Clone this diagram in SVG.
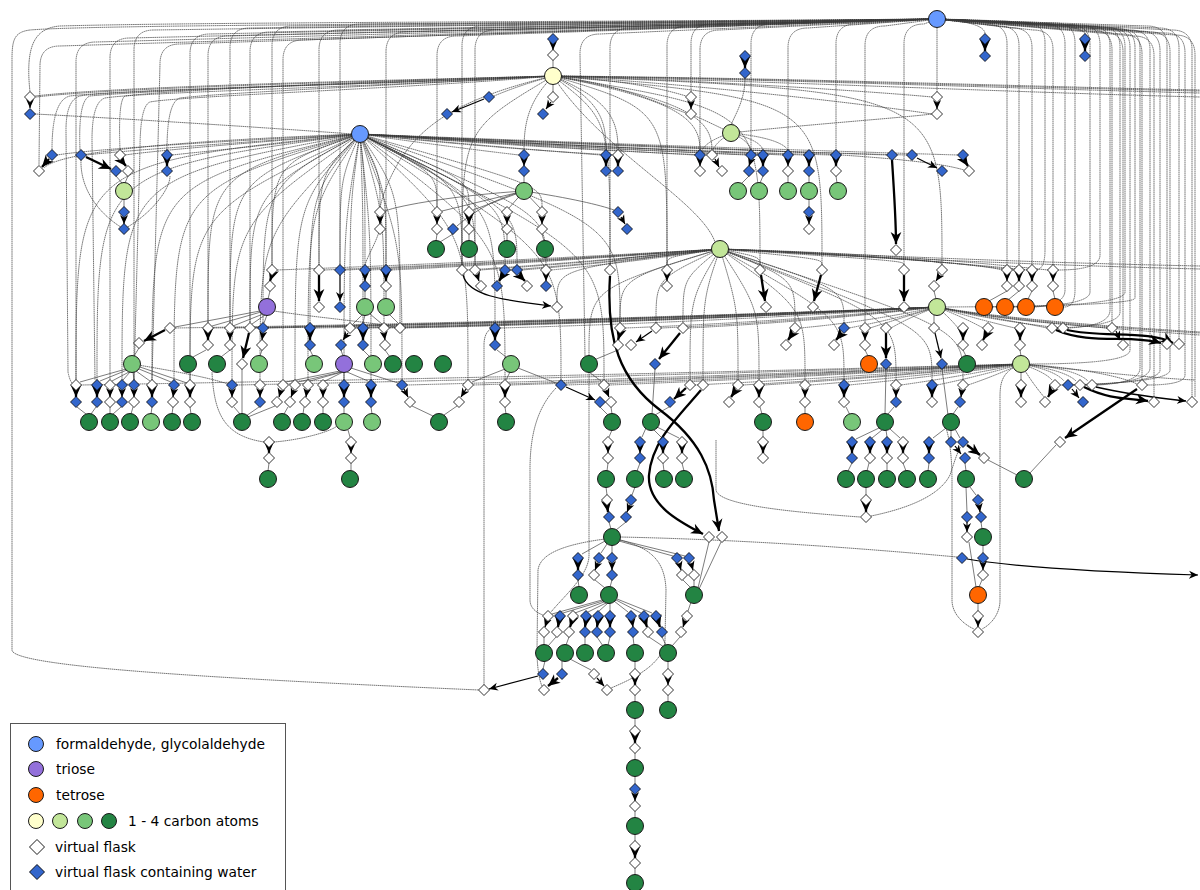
<svg xmlns="http://www.w3.org/2000/svg" width="1200" height="890" viewBox="0 0 1200 890">
<style>
.e{fill:none;stroke:#3a3a3a;stroke-width:.7;stroke-dasharray:1.6 .5}
.l{fill:none;stroke:#444;stroke-width:.7}
.p{fill:none;stroke:#000;stroke-width:1.2;marker-end:url(#ah)}
.P{fill:none;stroke:#000;stroke-width:2.3;marker-end:url(#ah2)}
circle{stroke:#1a1a1a;stroke-width:1}
.b{fill:#6699ff}.t{fill:#9370db}.o{fill:#ff6600}.c1{fill:#ffffcc}.c2{fill:#c2e699}.c3{fill:#78c679}.c4{fill:#238443}
text{font-family:"DejaVu Sans","Liberation Sans",sans-serif;font-size:13.8px;fill:#000}
</style>
<defs>
<marker id="ah" viewBox="0 0 10 10" refX="10" refY="5" markerWidth="9" markerHeight="9" markerUnits="userSpaceOnUse" orient="auto"><path d="M0,0.5 L10,5 L0,9.5 L3,5Z" fill="#000"/></marker>
<marker id="ah2" viewBox="0 0 10 10" refX="10" refY="5" markerWidth="12" markerHeight="12" markerUnits="userSpaceOnUse" orient="auto"><path d="M0,0.5 L10,5 L0,9.5 L3,5Z" fill="#000"/></marker>
<path id="w" d="M0,-5.5 L5.5,0 L0,5.5 L-5.5,0Z" fill="#fff" stroke="#000" stroke-width=".8"/>
<path id="k" d="M0,-5.5 L5.5,0 L0,5.5 L-5.5,0Z" fill="#3366cc" stroke="#000" stroke-width=".8"/>
</defs>
<rect width="1200" height="890" fill="#fff"/>
<g id="edges">
<path class="e" d="M937,19 C600,22 200,22 60,26 C35,28 25,45 30,92"/>
<path class="e" d="M937,19 C600,24 100,24 30,30 C14,32 12,40 12,60 L12,650 C12,668 250,680 479,690"/>
<path class="e" d="M937,19 L96,42 Q76,42 76,62 L76,380"/>
<path class="e" d="M937,19 L130,38 Q110,38 110,58 L110,380"/>
<path class="e" d="M937,19 L154,30 Q134,30 134,50 L134,380"/>
<path class="e" d="M937,19 L180,44 Q160,44 160,64 L152,380"/>
<path class="e" d="M937,19 L60,46 Q40,46 40,66 L39,165"/>
<path class="e" d="M937,19 L210,34 Q190,34 190,54 L190,380"/>
<path class="e" d="M937,19 L228,36 Q208,36 208,56 L208,323"/>
<path class="e" d="M937,19 L250,28 Q230,28 230,48 L230,323"/>
<path class="e" d="M937,19 L270,32 Q250,32 250,52 L250,323"/>
<path class="e" d="M937,19 L292,26 Q272,26 272,46 L272,265"/>
<path class="e" d="M937,19 L303,40 Q283,40 283,60 L283,380"/>
<path class="e" d="M937,19 L339,30 Q319,30 319,50 L319,265"/>
<path class="e" d="M937,19 L360,24 Q340,24 340,44 L340,265"/>
<path class="e" d="M937,19 L406,32 Q386,32 386,52 L386,265"/>
<path class="e" d="M937,19 L457,36 Q437,36 437,56 L437,207"/>
<path class="e" d="M937,19 L482,26 Q462,26 462,46 L462,265"/>
<path class="e" d="M937,19 L495,30 Q475,30 475,50 L475,265"/>
<path class="e" d="M937,19 L600,34 Q580,34 580,54 L585,356"/>
<path class="e" d="M937,19 L630,28 Q610,28 610,48 L610,265"/>
<path class="e" d="M937,19 L687,26 Q667,26 667,46 L667,265"/>
<path class="e" d="M937,19 L711,24 Q691,24 691,44 L691,92"/>
<path class="e" d="M937,19 L720,30 Q700,30 700,50 L700,150"/>
<path class="e" d="M937,19 L771,24 Q751,24 751,44 L751,150"/>
<path class="e" d="M937,19 L808,28 Q788,28 788,48 L788,150"/>
<path class="e" d="M937,19 L856,24 Q836,24 836,44 L836,150"/>
<path class="e" d="M937,19 L885,26 Q865,26 865,46 L865,323"/>
<path class="e" d="M937,19 L924,24 Q904,24 904,44 L904,265"/>
<path class="e" d="M937,28 L937,92"/>
<path class="e" d="M937,19 Q985,22 985,34"/>
<path class="e" d="M937,19 Q1085,22 1085,34"/>
<path class="e" d="M937,19 L987,24 Q1007,24 1007,44 L1007,265"/>
<path class="e" d="M937,19 L999,26 Q1019,26 1019,46 L1019,265"/>
<path class="e" d="M937,19 L1012,28 Q1032,28 1032,48 L1032,265"/>
<path class="e" d="M937,19 L1033,30 Q1053,30 1053,50 L1053,265"/>
<path class="e" d="M937,19 L1092,30 Q1112,30 1112,50 L1112,323"/>
<path class="e" d="M937,19 L1103,32 Q1123,32 1123,52 L1123,340"/>
<path class="e" d="M937,19 L1122,34 Q1142,34 1142,54 L1142,380"/>
<path class="e" d="M937,19 L1134,36 Q1154,36 1154,56 L1154,397"/>
<path class="e" d="M937,19 L1147,26 Q1167,26 1167,46 L1167,339"/>
<path class="e" d="M937,19 L1159,28 Q1179,28 1179,48 L1179,339"/>
<path class="e" d="M937,19 L1172,30 Q1192,30 1192,50 L1192,397"/>
<path class="e" d="M937,19 L1055,23 Q1075,23 1075,43 L1075,290 Q1075,307 1064,307"/>
<path class="e" d="M937,19 L1080,25 Q1100,25 1100,45 L1100,255 Q1100,270 1058,270"/>
<path class="e" d="M937,19 L1090,26 Q1110,26 1110,46 L1110,310 Q1110,326 1068,328"/>
<path class="e" d="M937,19 L1100,27 Q1120,27 1120,47 L1120,312 Q1120,326 1057,328"/>
<path class="e" d="M937,19 L1110,28 Q1130,28 1130,48 L1130,350 Q1130,364 1030,364"/>
<path class="e" d="M937,19 L1120,29 Q1140,29 1140,49 L1140,368 Q1140,383 1097,385"/>
<path class="e" d="M937,19 L1130,30 Q1150,30 1150,50 L1150,368 Q1150,383 1085,385"/>
<path class="e" d="M937,19 L1140,31 Q1160,31 1160,51 L1160,370 Q1160,383 1073,385"/>
<path class="e" d="M937,19 L1150,32 Q1170,32 1170,52 L1170,370 Q1170,383 1060,385"/>
<path class="e" d="M937,19 L1165,33 Q1185,33 1185,53 L1185,375 Q1185,385 1147,385"/>
<path class="e" d="M937,19 L1175,35 Q1195,35 1195,55 L1195,397"/>
<path class="e" d="M937,19 L1025,23 Q1045,23 1045,43 L1045,250 Q1045,268 1037,270"/>
<path class="e" d="M937,19 L1045,24 Q1065,24 1065,44 L1065,290 Q1065,305 1035,307"/>
<path class="e" d="M937,19 L1070,25 Q1090,25 1090,45 L1090,292 Q1090,306 1014,307"/>
<path class="e" d="M937,19 L1105,27 Q1125,27 1125,47 L1125,292 Q1125,306 993,307"/>
<path class="e" d="M937,19 L1115,28 Q1135,28 1135,48 L1135,298 Q1135,306 946,307"/>
<path class="e" d="M553,76 C400,80 120,86 35,96"/>
<path class="e" d="M553,76 C400,81 120,87 36,97"/>
<path class="e" d="M553,76 C400,84 140,88 70,96 Q52,100 52,150"/>
<path class="e" d="M553,76 C400,82 150,90 90,96 Q78,100 80,150"/>
<path class="e" d="M553,76 C400,80 170,90 125,96 Q118,100 120,150"/>
<path class="e" d="M553,76 C420,84 230,92 180,98 Q167,102 167,150"/>
<path class="e" d="M553,76 C400,84 110,90 80,96 Q66,100 66,130 L68,372 Q70,382 73,384"/>
<path class="e" d="M553,76 C400,86 140,92 105,98 Q92,102 92,140 L95,380"/>
<path class="e" d="M553,76 C420,88 180,96 150,102 Q140,106 140,150 L134,380"/>
<path class="e" d="M553,76 C800,78 1000,86 1200,90"/>
<path class="e" d="M553,76 C800,80 1000,88 1200,93"/>
<path class="e" d="M553,76 C800,82 1000,92 1200,97"/>
<path class="e" d="M553,76 C800,79 1000,87 1200,91"/>
<path class="e" d="M553,76 C620,80 660,88 686,96"/>
<path class="e" d="M553,76 C620,84 660,104 686,113"/>
<path class="e" d="M553,76 C700,80 880,92 932,97"/>
<path class="e" d="M553,76 C700,84 880,106 932,114"/>
<path class="e" d="M553,76 Q520,85 494,96"/>
<path class="e" d="M553,76 C530,100 524,120 524,150"/>
<path class="e" d="M553,76 C600,100 606,120 606,150"/>
<path class="e" d="M553,76 C610,100 618,120 618,150"/>
<path class="e" d="M553,76 C680,100 700,120 700,150"/>
<path class="e" d="M553,76 C690,100 712,120 712,150"/>
<path class="e" d="M553,76 C450,100 420,130 400,160 C385,185 382,200 380,207"/>
<path class="e" d="M553,76 C610,120 610,120 610,265"/>
<path class="e" d="M553,76 C667,110 667,110 667,265"/>
<path class="e" d="M553,76 C462,130 462,130 462,265"/>
<path class="e" d="M553,76 C760,110 760,110 760,265"/>
<path class="e" d="M553,76 C822,100 822,100 822,265"/>
<path class="e" d="M553,76 C942,92 942,92 942,265"/>
<path class="e" d="M553,76 C600,150 700,200 715,242"/>
<path class="e" d="M745,78 C745,100 735,115 731,125"/>
<path class="e" d="M731,133 Q708,140 702,150"/>
<path class="e" d="M731,133 Q716,142 713,150"/>
<path class="e" d="M731,133 Q748,140 751,150"/>
<path class="e" d="M731,133 Q760,140 763,150"/>
<path class="e" d="M731,133 Q780,138 788,150"/>
<path class="e" d="M731,133 C800,125 900,118 932,114"/>
<path class="e" d="M731,133 C715,125 702,119 695,116"/>
<path class="e" d="M35,114 C150,120 300,130 352,134"/>
<path class="e" d="M360,134 C250,140 100,148 57,155"/>
<path class="e" d="M360,134 C250,142 130,150 86,155"/>
<path class="e" d="M360,134 C260,142 160,150 125,155"/>
<path class="e" d="M360,134 C280,144 200,152 172,155"/>
<path class="e" d="M360,134 C200,140 60,150 44,168"/>
<path class="e" d="M360,134 Q442,146 519,155"/>
<path class="e" d="M360,134 Q483,146 601,155"/>
<path class="e" d="M360,134 Q489,148 613,155"/>
<path class="e" d="M360,134 Q530,146 695,155"/>
<path class="e" d="M360,134 Q536,148 707,155"/>
<path class="e" d="M360,134 Q555,146 746,155"/>
<path class="e" d="M360,134 Q561,148 758,155"/>
<path class="e" d="M360,134 Q574,146 783,155"/>
<path class="e" d="M360,134 Q584,147 804,155"/>
<path class="e" d="M360,134 Q598,148 831,155"/>
<path class="e" d="M360,134 Q626,146 887,155"/>
<path class="e" d="M360,134 Q636,148 907,155"/>
<path class="e" d="M360,134 Q661,146 958,155"/>
<path class="e" d="M360,134 C600,146 900,150 964,170"/>
<path class="e" d="M360,134 C76,164 76,164 76,380"/>
<path class="e" d="M360,134 C97,170 97,170 97,380"/>
<path class="e" d="M360,134 C122,178 122,178 122,380"/>
<path class="e" d="M360,134 C152,184 152,184 152,380"/>
<path class="e" d="M360,134 C174,190 174,190 174,380"/>
<path class="e" d="M360,134 C190,214 190,214 190,380"/>
<path class="e" d="M360,134 C208,174 208,174 208,323"/>
<path class="e" d="M360,134 C230,180 230,180 230,323"/>
<path class="e" d="M360,134 C232,224 232,224 232,380"/>
<path class="e" d="M360,134 C250,194 250,194 250,323"/>
<path class="e" d="M360,134 C260,234 260,234 260,380"/>
<path class="e" d="M360,134 C263,186 263,186 263,323"/>
<path class="e" d="M360,134 C272,164 272,164 272,265"/>
<path class="e" d="M360,134 C295,204 295,204 295,380"/>
<path class="e" d="M360,134 C308,210 308,210 308,380"/>
<path class="e" d="M360,134 C310,194 310,194 310,323"/>
<path class="e" d="M360,134 C319,174 319,174 319,265"/>
<path class="e" d="M360,134 C340,180 340,180 340,265"/>
<path class="e" d="M360,134 C344,224 344,224 344,380"/>
<path class="e" d="M360,134 C350,204 350,204 350,323"/>
<path class="e" d="M360,134 C363,204 363,204 363,323"/>
<path class="e" d="M360,134 C365,184 365,184 365,265"/>
<path class="e" d="M360,134 C371,234 371,234 371,380"/>
<path class="e" d="M360,134 C380,174 380,174 380,207"/>
<path class="e" d="M360,134 C384,214 384,214 384,323"/>
<path class="e" d="M360,134 C386,190 386,190 386,265"/>
<path class="e" d="M360,134 C400,194 400,194 400,323"/>
<path class="e" d="M360,134 C402,244 402,244 402,380"/>
<path class="e" d="M360,134 C437,174 437,174 437,207"/>
<path class="e" d="M360,134 C462,184 462,184 462,265"/>
<path class="e" d="M360,134 C468,234 468,234 468,380"/>
<path class="e" d="M360,134 C469,180 469,180 469,207"/>
<path class="e" d="M360,134 C475,194 475,194 475,265"/>
<path class="e" d="M360,134 C495,204 495,204 495,323"/>
<path class="e" d="M360,134 C505,204 505,204 505,265"/>
<path class="e" d="M360,134 C505,244 505,244 505,380"/>
<path class="e" d="M360,134 C517,210 517,210 517,265"/>
<path class="e" d="M360,134 C542,186 542,186 542,207"/>
<path class="e" d="M360,134 C546,214 546,214 546,265"/>
<path class="e" d="M360,134 C561,254 561,254 561,380"/>
<path class="e" d="M360,134 C604,254 604,254 604,380"/>
<path class="e" d="M360,134 C620,224 620,224 620,323"/>
<path class="e" d="M720,249 C610,259 610,259 610,265"/>
<path class="e" d="M720,249 C667,257 667,257 667,265"/>
<path class="e" d="M720,249 C760,257 760,257 760,265"/>
<path class="e" d="M720,249 C822,259 822,259 822,265"/>
<path class="e" d="M720,249 C904,261 904,261 904,265"/>
<path class="e" d="M720,249 C942,261 942,261 942,265"/>
<path class="e" d="M720,249 C620,279 620,279 620,323"/>
<path class="e" d="M720,249 C656,279 656,279 656,323"/>
<path class="e" d="M720,249 C683,279 683,279 683,323"/>
<path class="e" d="M720,249 C795,279 795,279 795,323"/>
<path class="e" d="M720,249 C844,289 844,289 844,323"/>
<path class="e" d="M720,249 C690,299 690,299 690,380"/>
<path class="e" d="M720,249 C703,299 703,299 703,380"/>
<path class="e" d="M720,249 C738,309 738,309 738,380"/>
<path class="e" d="M720,249 C759,309 759,309 759,380"/>
<path class="e" d="M720,249 C805,309 805,309 805,380"/>
<path class="e" d="M720,249 C844,319 844,319 844,380"/>
<path class="e" d="M720,249 C896,319 896,319 896,380"/>
<path class="e" d="M720,249 C932,329 932,329 932,380"/>
<path class="e" d="M720,249 C963,329 963,329 963,380"/>
<path class="e" d="M720,249 C557,269 557,269 557,302"/>
<path class="e" d="M720,249 C589,289 589,289 589,356"/>
<path class="e" d="M720,249 Q496,262 277,270"/>
<path class="e" d="M720,249 Q520,262 324,270"/>
<path class="e" d="M720,249 Q530,262 345,270"/>
<path class="e" d="M720,249 Q543,262 370,270"/>
<path class="e" d="M720,249 Q553,262 391,270"/>
<path class="e" d="M720,249 Q591,262 467,270"/>
<path class="e" d="M720,249 Q598,262 480,270"/>
<path class="e" d="M720,249 Q613,262 510,270"/>
<path class="e" d="M720,249 Q619,262 522,270"/>
<path class="e" d="M720,249 Q633,262 551,270"/>
<path class="e" d="M720,249 C850,254 1000,262 1200,266"/>
<path class="e" d="M720,249 C850,256 1000,264 1200,269"/>
<path class="e" d="M720,249 C900,254 1000,265 1048,270"/>
<path class="e" d="M720,249 C900,256 990,266 1002,270"/>
<path class="e" d="M720,249 C880,254 980,266 1014,270"/>
<path class="e" d="M720,249 C880,256 990,266 1027,270"/>
<path class="e" d="M937,307 Q554,322 175,328"/>
<path class="e" d="M937,307 Q573,322 213,328"/>
<path class="e" d="M937,307 Q584,322 235,328"/>
<path class="e" d="M937,307 Q594,322 255,328"/>
<path class="e" d="M937,307 Q600,322 268,328"/>
<path class="e" d="M937,307 Q624,322 315,328"/>
<path class="e" d="M937,307 Q644,322 355,328"/>
<path class="e" d="M937,307 Q650,322 368,328"/>
<path class="e" d="M937,307 Q661,322 389,328"/>
<path class="e" d="M937,307 Q669,322 405,328"/>
<path class="e" d="M937,307 Q716,322 500,328"/>
<path class="e" d="M937,307 Q779,322 625,328"/>
<path class="e" d="M937,307 Q797,322 661,328"/>
<path class="e" d="M937,307 Q810,322 688,328"/>
<path class="e" d="M937,307 Q866,322 800,328"/>
<path class="e" d="M937,307 Q891,320 849,328"/>
<path class="e" d="M937,307 Q901,318 870,328"/>
<path class="e" d="M937,307 Q912,316 891,328"/>
<path class="e" d="M937,307 Q950,318 958,328"/>
<path class="e" d="M937,307 Q965,318 983,328"/>
<path class="e" d="M937,307 Q980,320 1015,328"/>
<path class="e" d="M937,307 C990,318 1020,322 1047,328"/>
<path class="e" d="M937,307 C990,320 1030,324 1058,328"/>
<path class="e" d="M937,307 C1000,320 1060,324 1107,328"/>
<path class="e" d="M937,307 C1000,318 1100,326 1200,332"/>
<path class="e" d="M937,307 C1000,320 1100,328 1200,335"/>
<path class="e" d="M937,307 C1000,319 1100,327 1200,333"/>
<path class="e" d="M1021,364 Q548,377 81,385"/>
<path class="e" d="M1021,364 Q626,377 237,385"/>
<path class="e" d="M1021,364 Q711,377 407,385"/>
<path class="e" d="M1021,364 Q744,377 473,385"/>
<path class="e" d="M1021,364 Q763,377 510,385"/>
<path class="e" d="M1021,364 Q791,377 566,385"/>
<path class="e" d="M1021,364 Q812,377 609,385"/>
<path class="e" d="M1021,364 Q855,377 695,385"/>
<path class="e" d="M1021,364 Q879,377 743,385"/>
<path class="e" d="M1021,364 Q890,377 764,385"/>
<path class="e" d="M1021,364 Q913,377 810,385"/>
<path class="e" d="M1021,364 Q932,377 849,385"/>
<path class="e" d="M1021,364 Q958,377 901,385"/>
<path class="e" d="M1021,364 Q976,377 937,385"/>
<path class="e" d="M1021,364 Q992,377 968,385"/>
<path class="e" d="M1021,364 Q1045,372 1052,380"/>
<path class="e" d="M1021,364 Q1055,370 1064,381"/>
<path class="e" d="M1021,364 Q1065,370 1076,381"/>
<path class="e" d="M1021,364 Q1075,368 1088,381"/>
<path class="e" d="M1021,364 C1080,368 1120,376 1137,384"/>
<path class="e" d="M1021,364 C1030,380 1040,392 1044,397"/>
<path class="e" d="M1021,364 C1080,370 1150,378 1195,380"/>
<path class="e" d="M1021,364 C1000,372 1000,385 1000,400 L1000,600 C1000,615 990,625 982,629"/>
<path class="e" d="M946,428 C950,440 952,460 952,480 L952,600 C952,615 965,625 974,629"/>
<path class="e" d="M484,685 L484,345 C484,335 488,330 491,329"/>
<path class="e" d="M589,372 L589,555 C589,575 565,595 551,612"/>
<path class="e" d="M556,388 C535,410 530,440 530,470 L530,600 C530,610 540,614 543,615"/>
<path class="e" d="M605,539 C560,545 540,555 538,570 L537,650 C537,670 540,682 542,686"/>
<path class="e" d="M620,540 C650,548 665,560 666,590 L665,640 C664,665 630,680 611,688"/>
<path class="e" d="M264,442 C225,436 214,415 212,372"/>
<path class="e" d="M274,442 C300,440 330,432 337,426"/>
<path class="e" d="M716,440 L716,490 C718,505 790,512 860,517"/>
<path class="e" d="M871,516 C910,508 940,495 950,475 C955,460 958,450 961,447"/>
<path class="e" d="M620,537 C760,540 880,550 957,557"/>
<path class="e" d="M124,229 C100,215 80,190 81,160"/>
<path class="e" d="M124,229 C150,215 170,190 170,176"/>
<path class="e" d="M380,229 C375,245 368,255 365,265"/>
<path class="e" d="M132,364 C180,372 210,378 228,384"/>
<path class="e" d="M274,311 C320,318 370,322 395,327"/>
<path class="l" d="M553,60 L553,68 M553,84 L553,92 M128,176 L125,183 M116,176 L122,183 M124,199 L124,207 M524,176 L524,183 M524,191 L442,211 M524,191 L473,210 M524,191 L509,208 M524,191 L540,208 M524,191 C490,200 470,215 457,226 M524,191 C460,195 400,205 385,211 M524,191 C570,198 600,205 614,210 M437,234 L436,241 M469,234 L469,241 M507,234 L507,241 M542,234 L544,241 M453,234 L440,242 M749,176 L741,184 M763,176 L760,183 M788,176 L788,183 M809,176 L809,183 M836,176 L837,183 M809,199 L809,207 M270,291 L268,299 M365,291 L365,299 M386,291 L386,299 M139,348 L134,356"/>
<path class="l" d="M126,369 L80,382 M127,370 L100,381 M129,372 L112,381 M130,372 L123,380 M133,372 L134,380 M136,371 L150,381 M139,369 L171,382 M140,367 L187,383 M206,350 L193,357 M230,350 L221,357 M262,350 L260,356 M310,350 L313,356 M341,350 L343,356 M363,350 L370,357 M385,350 L390,357 M242,369 L242,414 M340,371 L286,382 M341,372 L298,382 M342,372 L310,381 M343,372 L325,381 M344,372 L344,380 M347,372 L368,381 M351,368 L398,383 M261,312 L212,326 M263,314 L233,326 M265,315 L252,324 M267,315 L264,323 M260,311 L175,327 M362,315 L353,324 M365,315 L363,323 M370,314 L382,324 M390,315 L398,323"/>
<path class="l" d="M77,407 L86,414 M96,407 L91,414 M110,407 L110,414 M121,407 L113,414 M133,407 L131,414 M152,407 L151,414 M173,407 L172,414 M190,407 L191,414 M234,407 L240,414 M259,407 L246,416 M275,406 L248,417 M288,407 L284,414 M304,407 L303,414 M323,407 L323,414 M344,407 L344,414 M371,407 L372,414 M412,406 L433,416 M457,406 L444,415 M505,407 L506,414 M348,430 L350,437 M351,463 L351,471 M269,463 L268,471 M497,350 L506,357 M505,369 L472,382 M510,372 L506,380 M518,368 L556,383 M589,372 L601,381 M611,407 L612,414 M600,407 L608,415 M612,430 L609,437 M608,463 L607,471 M618,350 L594,360 M655,369 L652,414 M669,407 L655,415 M646,428 L642,437 M654,430 L661,437 M657,427 L679,438 M640,463 L637,471 M663,463 L664,471 M682,463 L684,471 M606,487 L607,495 M635,487 L632,495 M609,522 L611,529 M626,522 L616,530"/>
<path class="l" d="M605,541 L582,554 M607,544 L601,553 M612,545 L612,553 M619,541 L673,556 M620,540 L685,556 M578,580 L579,587 M595,580 L605,588 M612,580 L610,587 M683,580 L691,588 M694,580 L694,587 M709,542 L698,588 M721,542 L699,589 M602,600 L552,614 M603,601 L563,613 M604,602 L575,613 M606,603 L588,612 M608,603 L599,611 M610,603 L610,611 M614,601 L628,612 M616,600 L641,613 M617,599 L652,613 M691,602 L688,611 M680,637 L672,646 M544,637 L544,645 M556,637 L548,646 M569,637 L566,645 M585,637 L585,645 M597,637 L603,646 M610,637 L608,645 M633,637 L634,645 M649,637 L664,647 M662,637 L666,645 M545,661 L543,669 M562,661 L562,669 M570,659 L591,670 M635,661 L635,669 M668,661 L668,669 M635,695 L635,702 M668,695 L668,702 M635,718 L635,726 M635,753 L635,760 M635,776 L635,784 M635,811 L635,818 M635,834 L635,841 M635,868 L635,875"/>
<path class="l" d="M760,407 L762,414 M763,430 L763,437 M805,407 L805,414 M846,407 L850,415 M894,407 L888,414 M879,428 L856,439 M882,430 L872,438 M886,430 L887,437 M890,429 L900,438 M852,463 L848,471 M869,463 L867,471 M887,463 L887,471 M903,463 L906,471 M929,463 L928,471 M958,407 L953,414 M946,428 L933,438 M951,430 L951,437 M955,429 L960,438 M965,463 L966,471 M988,460 L1017,475 M1056,445 L1030,473 M866,487 L866,495 M966,487 L967,512 M970,487 L976,495 M981,522 L982,529 M969,542 L976,587 M983,545 L983,553 M982,580 L979,587 M978,603 L978,611 M865,350 L868,356 M963,350 L966,356 M1020,350 L1021,356 M886,369 L885,414 M942,369 L948,415 M1007,291 L989,301 M1019,291 L1008,300 M1032,291 L1028,299 M1053,291 L1055,299 M934,291 L936,299 M934,312 L934,323 M1021,373 L1021,380"/>
<path class="p" d="M30,102 L30,108"/>
<path class="p" d="M553,44 L553,50"/>
<path class="P" d="M745,61 L745,68"/>
<path class="P" d="M985,44 L985,51"/>
<path class="P" d="M1085,44 L1085,51"/>
<path class="p" d="M551,102 L546,109"/>
<path class="p" d="M484,99 L452,112"/>
<path class="p" d="M691,102 L691,109"/>
<path class="p" d="M937,102 L937,109"/>
<path class="P" d="M49,159 L42,167"/>
<path class="P" d="M86,157 L111,169"/>
<path class="P" d="M121,160 L126,166"/>
<path class="P" d="M167,160 L167,166"/>
<path class="p" d="M124,217 L124,224"/>
<path class="p" d="M380,217 L380,224"/>
<path class="p" d="M524,160 L524,166"/>
<path class="P" d="M606,160 L606,166"/>
<path class="P" d="M618,160 L618,166"/>
<path class="p" d="M700,160 L700,166"/>
<path class="p" d="M715,159 L719,167"/>
<path class="p" d="M751,160 L749,166"/>
<path class="P" d="M763,160 L763,166"/>
<path class="p" d="M788,160 L788,166"/>
<path class="P" d="M809,160 L809,166"/>
<path class="P" d="M836,160 L836,166"/>
<path class="P" d="M892,160 C894,190 896,220 896,244"/>
<path class="p" d="M917,158 L937,168"/>
<path class="P" d="M964,160 L968,166"/>
<path class="p" d="M809,217 L809,224"/>
<path class="p" d="M437,217 L437,224"/>
<path class="P" d="M469,217 L469,224"/>
<path class="p" d="M507,217 L507,224"/>
<path class="p" d="M542,217 L542,224"/>
<path class="p" d="M621,217 L625,224"/>
<path class="P" d="M272,275 L270,281"/>
<path class="P" d="M319,275 L319,301"/>
<path class="p" d="M340,275 L340,301"/>
<path class="p" d="M365,275 L365,281"/>
<path class="P" d="M386,275 L386,281"/>
<path class="p" d="M477,275 L479,281"/>
<path class="P" d="M503,275 L499,281"/>
<path class="P" d="M519,275 L525,281"/>
<path class="p" d="M546,275 L546,281"/>
<path class="p" d="M667,275 L667,281"/>
<path class="P" d="M761,275 L765,301"/>
<path class="P" d="M821,275 L814,301"/>
<path class="P" d="M904,275 L904,301"/>
<path class="p" d="M940,275 L936,281"/>
<path class="p" d="M1007,275 L1007,281"/>
<path class="P" d="M1019,275 L1019,281"/>
<path class="P" d="M1032,275 L1032,281"/>
<path class="p" d="M1053,275 L1053,281"/>
<path class="p" d="M463,275 C468,295 500,300 551,306"/>
<path class="P" d="M165,330 L144,341"/>
<path class="P" d="M208,333 L208,340"/>
<path class="p" d="M230,333 L230,340"/>
<path class="P" d="M249,333 L243,358"/>
<path class="p" d="M263,333 L262,340"/>
<path class="P" d="M310,333 L310,340"/>
<path class="p" d="M348,333 L343,340"/>
<path class="P" d="M363,333 L363,340"/>
<path class="p" d="M384,333 L385,340"/>
<path class="P" d="M495,333 L495,340"/>
<path class="P" d="M620,333 L618,340"/>
<path class="p" d="M652,331 L636,342"/>
<path class="P" d="M680,333 L659,359"/>
<path class="P" d="M793,333 L788,340"/>
<path class="P" d="M842,333 L836,340"/>
<path class="p" d="M865,333 L865,340"/>
<path class="P" d="M886,333 L886,358"/>
<path class="p" d="M935,333 L941,358"/>
<path class="P" d="M963,333 L963,340"/>
<path class="P" d="M987,333 L983,340"/>
<path class="P" d="M1020,333 L1020,340"/>
<path class="P" d="M1056,330 C1090,345 1130,334 1161,343"/>
<path class="P" d="M1067,330 C1100,338 1150,330 1173,343"/>
<path class="p" d="M1116,331 L1120,340"/>
<path class="P" d="M76,390 L76,397"/>
<path class="P" d="M97,390 L97,397"/>
<path class="p" d="M110,390 L110,397"/>
<path class="p" d="M122,390 L122,397"/>
<path class="p" d="M134,390 L134,397"/>
<path class="P" d="M152,390 L152,397"/>
<path class="p" d="M174,390 L173,397"/>
<path class="P" d="M190,390 L190,397"/>
<path class="p" d="M232,390 L232,397"/>
<path class="p" d="M260,390 L260,397"/>
<path class="p" d="M281,390 L279,397"/>
<path class="p" d="M294,390 L291,397"/>
<path class="p" d="M307,390 L306,397"/>
<path class="p" d="M323,390 L323,397"/>
<path class="P" d="M344,390 L344,397"/>
<path class="P" d="M371,390 L371,397"/>
<path class="p" d="M404,389 L408,397"/>
<path class="p" d="M466,389 L461,397"/>
<path class="P" d="M505,390 L505,397"/>
<path class="p" d="M566,387 L595,400"/>
<path class="p" d="M606,390 L609,397"/>
<path class="P" d="M686,388 L674,399"/>
<path class="P" d="M736,390 L731,397"/>
<path class="P" d="M759,390 L759,397"/>
<path class="p" d="M805,390 L805,397"/>
<path class="P" d="M844,390 L844,397"/>
<path class="p" d="M896,390 L896,397"/>
<path class="P" d="M932,390 L932,397"/>
<path class="p" d="M962,390 L961,397"/>
<path class="P" d="M1021,390 L1021,397"/>
<path class="P" d="M1052,390 L1048,397"/>
<path class="p" d="M1072,389 L1079,398"/>
<path class="P" d="M1084,387 C1110,400 1130,398 1148,401"/>
<path class="p" style="stroke-width:1.6" d="M1096,387 C1130,395 1160,398 1186,401"/>
<path class="P" d="M1137,389 L1065,438"/>
<path class="P" d="M610,276 C606,340 620,380 660,410 C700,440 712,470 714,500 L719,531"/>
<path class="P" d="M701,390 C680,415 652,440 649,475 C647,505 680,522 703,534"/>
<path class="P" d="M269,447 L269,453"/>
<path class="p" d="M351,447 L351,453"/>
<path class="p" d="M608,447 L608,453"/>
<path class="p" d="M640,447 L640,453"/>
<path class="P" d="M663,447 L663,453"/>
<path class="P" d="M682,447 L682,453"/>
<path class="P" d="M763,447 L763,453"/>
<path class="P" d="M852,447 L852,453"/>
<path class="P" d="M870,447 L870,453"/>
<path class="P" d="M887,447 L887,453"/>
<path class="P" d="M903,447 L903,453"/>
<path class="P" d="M929,447 L929,453"/>
<path class="p" d="M955,446 L961,454"/>
<path class="P" d="M967,445 L980,455"/>
<path class="P" d="M866,505 L866,512"/>
<path class="p" d="M979,505 L980,512"/>
<path class="p" d="M967,522 L967,532"/>
<path class="P" d="M607,505 L608,512"/>
<path class="p" d="M630,505 L627,512"/>
<path class="P" d="M578,563 L578,570"/>
<path class="p" d="M598,563 L595,570"/>
<path class="p" d="M612,563 L612,570"/>
<path class="p" d="M679,563 L681,570"/>
<path class="p" d="M691,563 L693,570"/>
<path class="p" d="M967,559 C1020,568 1100,572 1198,575"/>
<path class="p" d="M983,563 L983,570"/>
<path class="p" d="M547,621 L545,627"/>
<path class="P" d="M559,621 L558,627"/>
<path class="P" d="M572,621 L570,627"/>
<path class="P" d="M586,621 L585,627"/>
<path class="P" d="M598,621 L597,627"/>
<path class="P" d="M610,621 L610,627"/>
<path class="p" d="M632,621 L633,627"/>
<path class="P" d="M645,621 L647,627"/>
<path class="P" d="M658,621 L660,627"/>
<path class="p" d="M685,621 L683,627"/>
<path class="p" d="M978,621 L978,627"/>
<path class="p" d="M538,676 L489,689"/>
<path class="P" d="M558,678 L548,686"/>
<path class="p" d="M597,678 L604,686"/>
<path class="P" d="M635,679 L635,685"/>
<path class="p" d="M668,679 L668,685"/>
<path class="P" d="M635,736 L635,743"/>
<path class="p" d="M635,794 L635,801"/>
<path class="P" d="M635,851 L635,858"/>
</g>
<g id="nodes">
<g id="n1"><circle class="b" cx="937" cy="19" r="8.5"/></g>
<g id="n2"><circle class="c1" cx="553" cy="76" r="8.5"/></g>
<g id="n3"><circle class="b" cx="360" cy="134" r="8.5"/></g>
<g id="n4"><circle class="c2" cx="731" cy="133" r="8.5"/></g>
<g id="n5"><circle class="c2" cx="124" cy="191" r="8.5"/></g>
<g id="n6"><circle class="c3" cx="524" cy="191" r="8.5"/></g>
<g id="n7"><circle class="c3" cx="738" cy="191" r="8.5"/></g>
<g id="n8"><circle class="c3" cx="759" cy="191" r="8.5"/></g>
<g id="n9"><circle class="c3" cx="788" cy="191" r="8.5"/></g>
<g id="n10"><circle class="c3" cx="809" cy="191" r="8.5"/></g>
<g id="n11"><circle class="c3" cx="838" cy="191" r="8.5"/></g>
<g id="n12"><circle class="c4" cx="436" cy="249" r="8.5"/></g>
<g id="n13"><circle class="c4" cx="469" cy="249" r="8.5"/></g>
<g id="n14"><circle class="c4" cx="507" cy="249" r="8.5"/></g>
<g id="n15"><circle class="c4" cx="545" cy="249" r="8.5"/></g>
<g id="n16"><circle class="c2" cx="720" cy="249" r="8.5"/></g>
<g id="n17"><circle class="t" cx="267" cy="307" r="8.5"/></g>
<g id="n18"><circle class="c3" cx="365" cy="307" r="8.5"/></g>
<g id="n19"><circle class="c3" cx="386" cy="307" r="8.5"/></g>
<g id="n20"><circle class="c2" cx="937" cy="307" r="8.5"/></g>
<g id="n21"><circle class="o" cx="984" cy="307" r="8.5"/></g>
<g id="n22"><circle class="o" cx="1005" cy="307" r="8.5"/></g>
<g id="n23"><circle class="o" cx="1026" cy="307" r="8.5"/></g>
<g id="n24"><circle class="o" cx="1055" cy="307" r="8.5"/></g>
<g id="n25"><circle class="c3" cx="132" cy="364" r="8.5"/></g>
<g id="n26"><circle class="c4" cx="188" cy="364" r="8.5"/></g>
<g id="n27"><circle class="c4" cx="217" cy="364" r="8.5"/></g>
<g id="n28"><circle class="c3" cx="259" cy="364" r="8.5"/></g>
<g id="n29"><circle class="c3" cx="314" cy="364" r="8.5"/></g>
<g id="n30"><circle class="t" cx="344" cy="364" r="8.5"/></g>
<g id="n31"><circle class="c3" cx="373" cy="364" r="8.5"/></g>
<g id="n32"><circle class="c4" cx="393" cy="364" r="8.5"/></g>
<g id="n33"><circle class="c4" cx="414" cy="364" r="8.5"/></g>
<g id="n34"><circle class="c4" cx="443" cy="364" r="8.5"/></g>
<g id="n35"><circle class="c3" cx="511" cy="364" r="8.5"/></g>
<g id="n36"><circle class="c4" cx="589" cy="364" r="8.5"/></g>
<g id="n37"><circle class="o" cx="869" cy="364" r="8.5"/></g>
<g id="n38"><circle class="c4" cx="967" cy="364" r="8.5"/></g>
<g id="n39"><circle class="c2" cx="1021" cy="364" r="8.5"/></g>
<g id="n40"><circle class="c4" cx="89" cy="422" r="8.5"/></g>
<g id="n41"><circle class="c4" cx="110" cy="422" r="8.5"/></g>
<g id="n42"><circle class="c4" cx="130" cy="422" r="8.5"/></g>
<g id="n43"><circle class="c3" cx="151" cy="422" r="8.5"/></g>
<g id="n44"><circle class="c4" cx="172" cy="422" r="8.5"/></g>
<g id="n45"><circle class="c4" cx="192" cy="422" r="8.5"/></g>
<g id="n46"><circle class="c4" cx="242" cy="422" r="8.5"/></g>
<g id="n47"><circle class="c4" cx="282" cy="422" r="8.5"/></g>
<g id="n48"><circle class="c4" cx="302" cy="422" r="8.5"/></g>
<g id="n49"><circle class="c4" cx="323" cy="422" r="8.5"/></g>
<g id="n50"><circle class="c3" cx="344" cy="422" r="8.5"/></g>
<g id="n51"><circle class="c3" cx="372" cy="422" r="8.5"/></g>
<g id="n52"><circle class="c4" cx="439" cy="422" r="8.5"/></g>
<g id="n53"><circle class="c4" cx="506" cy="422" r="8.5"/></g>
<g id="n54"><circle class="c4" cx="612" cy="422" r="8.5"/></g>
<g id="n55"><circle class="c4" cx="651" cy="422" r="8.5"/></g>
<g id="n56"><circle class="c4" cx="763" cy="422" r="8.5"/></g>
<g id="n57"><circle class="o" cx="805" cy="422" r="8.5"/></g>
<g id="n58"><circle class="c3" cx="852" cy="422" r="8.5"/></g>
<g id="n59"><circle class="c4" cx="885" cy="422" r="8.5"/></g>
<g id="n60"><circle class="c4" cx="951" cy="422" r="8.5"/></g>
<g id="n61"><circle class="c4" cx="268" cy="479" r="8.5"/></g>
<g id="n62"><circle class="c4" cx="350" cy="479" r="8.5"/></g>
<g id="n63"><circle class="c4" cx="606" cy="479" r="8.5"/></g>
<g id="n64"><circle class="c4" cx="635" cy="479" r="8.5"/></g>
<g id="n65"><circle class="c4" cx="664" cy="479" r="8.5"/></g>
<g id="n66"><circle class="c4" cx="684" cy="479" r="8.5"/></g>
<g id="n67"><circle class="c4" cx="846" cy="479" r="8.5"/></g>
<g id="n68"><circle class="c4" cx="866" cy="479" r="8.5"/></g>
<g id="n69"><circle class="c4" cx="887" cy="479" r="8.5"/></g>
<g id="n70"><circle class="c4" cx="907" cy="479" r="8.5"/></g>
<g id="n71"><circle class="c4" cx="928" cy="479" r="8.5"/></g>
<g id="n72"><circle class="c4" cx="966" cy="479" r="8.5"/></g>
<g id="n73"><circle class="c4" cx="1024" cy="479" r="8.5"/></g>
<g id="n74"><circle class="c4" cx="612" cy="537" r="8.5"/></g>
<g id="n75"><circle class="c4" cx="983" cy="537" r="8.5"/></g>
<g id="n76"><circle class="c4" cx="579" cy="595" r="8.5"/></g>
<g id="n77"><circle class="c4" cx="609" cy="595" r="8.5"/></g>
<g id="n78"><circle class="c4" cx="694" cy="595" r="8.5"/></g>
<g id="n79"><circle class="o" cx="978" cy="595" r="8.5"/></g>
<g id="n80"><circle class="c4" cx="544" cy="653" r="8.5"/></g>
<g id="n81"><circle class="c4" cx="565" cy="653" r="8.5"/></g>
<g id="n82"><circle class="c4" cx="585" cy="653" r="8.5"/></g>
<g id="n83"><circle class="c4" cx="606" cy="653" r="8.5"/></g>
<g id="n84"><circle class="c4" cx="635" cy="653" r="8.5"/></g>
<g id="n85"><circle class="c4" cx="668" cy="653" r="8.5"/></g>
<g id="n86"><circle class="c4" cx="635" cy="710" r="8.5"/></g>
<g id="n87"><circle class="c4" cx="668" cy="710" r="8.5"/></g>
<g id="n88"><circle class="c4" cx="635" cy="768" r="8.5"/></g>
<g id="n89"><circle class="c4" cx="635" cy="826" r="8.5"/></g>
<g id="n90"><circle class="c4" cx="635" cy="883" r="8.5"/></g>
</g>
<g id="flasks">
<g id="f1"><use href="#w" x="30" y="97"/></g><g id="f2"><use href="#k" x="30" y="114"/></g>
<g id="f3"><use href="#k" x="553" y="39"/></g><g id="f4"><use href="#w" x="553" y="55"/></g>
<g id="f5"><use href="#k" x="745" y="56"/></g><g id="f6"><use href="#k" x="745" y="73"/></g>
<g id="f7"><use href="#k" x="985" y="39"/></g><g id="f8"><use href="#k" x="985" y="56"/></g>
<g id="f9"><use href="#k" x="1085" y="39"/></g><g id="f10"><use href="#k" x="1085" y="56"/></g>
<g id="f11"><use href="#w" x="553" y="97"/></g><g id="f12"><use href="#k" x="543" y="114"/></g>
<g id="f13"><use href="#k" x="489" y="97"/></g><g id="f14"><use href="#k" x="447" y="114"/></g>
<g id="f15"><use href="#w" x="691" y="97"/></g><g id="f16"><use href="#w" x="691" y="114"/></g>
<g id="f17"><use href="#w" x="937" y="97"/></g><g id="f18"><use href="#w" x="937" y="114"/></g>
<g id="f19"><use href="#k" x="52" y="155"/></g><g id="f20"><use href="#w" x="39" y="171"/></g>
<g id="f21"><use href="#k" x="81" y="155"/></g><g id="f22"><use href="#k" x="116" y="171"/></g>
<g id="f23"><use href="#w" x="120" y="155"/></g><g id="f24"><use href="#w" x="128" y="171"/></g>
<g id="f25"><use href="#k" x="167" y="155"/></g><g id="f26"><use href="#k" x="167" y="171"/></g>
<g id="f27"><use href="#k" x="124" y="212"/></g><g id="f28"><use href="#k" x="124" y="229"/></g>
<g id="f29"><use href="#w" x="380" y="212"/></g><g id="f30"><use href="#w" x="380" y="229"/></g>
<g id="f31"><use href="#k" x="524" y="155"/></g><g id="f32"><use href="#k" x="524" y="171"/></g>
<g id="f33"><use href="#k" x="606" y="155"/></g><g id="f34"><use href="#k" x="606" y="171"/></g>
<g id="f35"><use href="#w" x="618" y="155"/></g><g id="f36"><use href="#k" x="618" y="171"/></g>
<g id="f37"><use href="#k" x="700" y="155"/></g><g id="f38"><use href="#w" x="700" y="171"/></g>
<g id="f39"><use href="#w" x="712" y="155"/></g><g id="f40"><use href="#w" x="722" y="171"/></g>
<g id="f41"><use href="#k" x="751" y="155"/></g><g id="f42"><use href="#k" x="749" y="171"/></g>
<g id="f43"><use href="#k" x="763" y="155"/></g><g id="f44"><use href="#k" x="763" y="171"/></g>
<g id="f45"><use href="#k" x="788" y="155"/></g><g id="f46"><use href="#w" x="788" y="171"/></g>
<g id="f47"><use href="#k" x="809" y="155"/></g><g id="f48"><use href="#k" x="809" y="171"/></g>
<g id="f49"><use href="#k" x="836" y="155"/></g><g id="f50"><use href="#w" x="836" y="171"/></g>
<g id="f51"><use href="#k" x="892" y="155"/></g><g id="f52"><use href="#w" x="896" y="250"/></g>
<g id="f53"><use href="#k" x="912" y="155"/></g><g id="f54"><use href="#k" x="942" y="171"/></g>
<g id="f55"><use href="#k" x="963" y="155"/></g><g id="f56"><use href="#w" x="969" y="171"/></g>
<g id="f57"><use href="#k" x="809" y="212"/></g><g id="f58"><use href="#w" x="809" y="229"/></g>
<g id="f59"><use href="#w" x="437" y="212"/></g><g id="f60"><use href="#w" x="437" y="229"/></g>
<g id="f61"><use href="#k" x="453" y="229"/></g>
<g id="f62"><use href="#w" x="469" y="212"/></g><g id="f63"><use href="#w" x="469" y="229"/></g>
<g id="f64"><use href="#w" x="507" y="212"/></g><g id="f65"><use href="#w" x="507" y="229"/></g>
<g id="f66"><use href="#w" x="542" y="212"/></g><g id="f67"><use href="#w" x="542" y="229"/></g>
<g id="f68"><use href="#k" x="618" y="212"/></g><g id="f69"><use href="#k" x="627" y="229"/></g>
<g id="f70"><use href="#w" x="272" y="270"/></g><g id="f71"><use href="#w" x="270" y="286"/></g>
<g id="f72"><use href="#w" x="319" y="270"/></g><g id="f73"><use href="#w" x="319" y="307"/></g>
<g id="f74"><use href="#k" x="340" y="270"/></g><g id="f75"><use href="#k" x="340" y="307"/></g>
<g id="f76"><use href="#k" x="365" y="270"/></g><g id="f77"><use href="#k" x="365" y="286"/></g>
<g id="f78"><use href="#k" x="386" y="270"/></g><g id="f79"><use href="#w" x="386" y="286"/></g>
<g id="f80"><use href="#w" x="462" y="270"/></g>
<g id="f81"><use href="#w" x="475" y="270"/></g><g id="f82"><use href="#w" x="481" y="286"/></g>
<g id="f83"><use href="#k" x="505" y="270"/></g><g id="f84"><use href="#k" x="497" y="286"/></g>
<g id="f85"><use href="#k" x="517" y="270"/></g><g id="f86"><use href="#w" x="527" y="286"/></g>
<g id="f87"><use href="#w" x="546" y="270"/></g><g id="f88"><use href="#k" x="546" y="286"/></g>
<g id="f89"><use href="#w" x="610" y="270"/></g>
<g id="f90"><use href="#w" x="667" y="270"/></g><g id="f91"><use href="#w" x="667" y="286"/></g>
<g id="f92"><use href="#w" x="557" y="307"/></g>
<g id="f93"><use href="#w" x="760" y="270"/></g><g id="f94"><use href="#w" x="766" y="307"/></g>
<g id="f95"><use href="#w" x="822" y="270"/></g><g id="f96"><use href="#w" x="813" y="307"/></g>
<g id="f97"><use href="#w" x="904" y="270"/></g><g id="f98"><use href="#w" x="904" y="307"/></g>
<g id="f99"><use href="#w" x="942" y="270"/></g><g id="f100"><use href="#w" x="934" y="286"/></g>
<g id="f101"><use href="#w" x="1007" y="270"/></g><g id="f102"><use href="#w" x="1007" y="286"/></g>
<g id="f103"><use href="#w" x="1019" y="270"/></g><g id="f104"><use href="#w" x="1019" y="286"/></g>
<g id="f105"><use href="#w" x="1032" y="270"/></g><g id="f106"><use href="#w" x="1032" y="286"/></g>
<g id="f107"><use href="#w" x="1053" y="270"/></g><g id="f108"><use href="#w" x="1053" y="286"/></g>
<g id="f109"><use href="#w" x="170" y="328"/></g><g id="f110"><use href="#w" x="139" y="343"/></g>
<g id="f111"><use href="#w" x="208" y="328"/></g><g id="f112"><use href="#w" x="208" y="345"/></g>
<g id="f113"><use href="#w" x="230" y="328"/></g><g id="f114"><use href="#w" x="230" y="345"/></g>
<g id="f115"><use href="#w" x="250" y="328"/></g><g id="f116"><use href="#w" x="242" y="364"/></g>
<g id="f117"><use href="#k" x="263" y="328"/></g><g id="f118"><use href="#w" x="262" y="345"/></g>
<g id="f119"><use href="#k" x="310" y="328"/></g><g id="f120"><use href="#k" x="310" y="345"/></g>
<g id="f121"><use href="#w" x="350" y="328"/></g><g id="f122"><use href="#k" x="341" y="345"/></g>
<g id="f123"><use href="#k" x="363" y="328"/></g><g id="f124"><use href="#k" x="363" y="345"/></g>
<g id="f125"><use href="#w" x="384" y="328"/></g><g id="f126"><use href="#w" x="385" y="345"/></g>
<g id="f127"><use href="#w" x="400" y="328"/></g>
<g id="f128"><use href="#k" x="495" y="328"/></g><g id="f129"><use href="#k" x="495" y="345"/></g>
<g id="f130"><use href="#w" x="620" y="328"/></g><g id="f131"><use href="#w" x="618" y="345"/></g>
<g id="f132"><use href="#w" x="656" y="328"/></g><g id="f133"><use href="#w" x="631" y="345"/></g>
<g id="f134"><use href="#w" x="683" y="328"/></g><g id="f135"><use href="#k" x="655" y="364"/></g>
<g id="f136"><use href="#w" x="795" y="328"/></g><g id="f137"><use href="#w" x="786" y="345"/></g>
<g id="f138"><use href="#k" x="844" y="328"/></g><g id="f139"><use href="#w" x="834" y="345"/></g>
<g id="f140"><use href="#w" x="865" y="328"/></g><g id="f141"><use href="#w" x="865" y="345"/></g>
<g id="f142"><use href="#w" x="886" y="328"/></g><g id="f143"><use href="#k" x="886" y="364"/></g>
<g id="f144"><use href="#w" x="934" y="328"/></g><g id="f145"><use href="#k" x="942" y="364"/></g>
<g id="f146"><use href="#w" x="963" y="328"/></g><g id="f147"><use href="#w" x="963" y="345"/></g>
<g id="f148"><use href="#w" x="988" y="328"/></g><g id="f149"><use href="#w" x="982" y="345"/></g>
<g id="f150"><use href="#w" x="1020" y="328"/></g><g id="f151"><use href="#w" x="1020" y="345"/></g>
<g id="f152"><use href="#w" x="1052" y="328"/></g><g id="f153"><use href="#w" x="1063" y="328"/></g>
<g id="f154"><use href="#w" x="1112" y="328"/></g><g id="f155"><use href="#w" x="1123" y="345"/></g>
<g id="f156"><use href="#w" x="1167" y="344"/></g><g id="f157"><use href="#w" x="1179" y="344"/></g>
<g id="f158"><use href="#w" x="76" y="385"/></g><g id="f159"><use href="#k" x="76" y="402"/></g>
<g id="f160"><use href="#k" x="97" y="385"/></g><g id="f161"><use href="#k" x="97" y="402"/></g>
<g id="f162"><use href="#w" x="110" y="385"/></g><g id="f163"><use href="#w" x="110" y="402"/></g>
<g id="f164"><use href="#k" x="122" y="385"/></g><g id="f165"><use href="#k" x="122" y="402"/></g>
<g id="f166"><use href="#k" x="134" y="385"/></g><g id="f167"><use href="#w" x="134" y="402"/></g>
<g id="f168"><use href="#w" x="152" y="385"/></g><g id="f169"><use href="#k" x="152" y="402"/></g>
<g id="f170"><use href="#k" x="174" y="385"/></g><g id="f171"><use href="#w" x="173" y="402"/></g>
<g id="f172"><use href="#w" x="190" y="385"/></g><g id="f173"><use href="#w" x="190" y="402"/></g>
<g id="f174"><use href="#k" x="232" y="385"/></g><g id="f175"><use href="#w" x="232" y="402"/></g>
<g id="f176"><use href="#w" x="260" y="385"/></g><g id="f177"><use href="#k" x="260" y="402"/></g>
<g id="f178"><use href="#w" x="283" y="385"/></g><g id="f179"><use href="#w" x="277" y="402"/></g>
<g id="f180"><use href="#w" x="295" y="385"/></g><g id="f181"><use href="#w" x="290" y="402"/></g>
<g id="f182"><use href="#w" x="308" y="385"/></g><g id="f183"><use href="#w" x="305" y="402"/></g>
<g id="f184"><use href="#w" x="323" y="385"/></g><g id="f185"><use href="#w" x="323" y="402"/></g>
<g id="f186"><use href="#k" x="344" y="385"/></g><g id="f187"><use href="#k" x="344" y="402"/></g>
<g id="f188"><use href="#k" x="371" y="385"/></g><g id="f189"><use href="#k" x="371" y="402"/></g>
<g id="f190"><use href="#k" x="402" y="385"/></g><g id="f191"><use href="#w" x="410" y="402"/></g>
<g id="f192"><use href="#w" x="468" y="385"/></g><g id="f193"><use href="#w" x="459" y="402"/></g>
<g id="f194"><use href="#w" x="505" y="385"/></g><g id="f195"><use href="#w" x="505" y="402"/></g>
<g id="f196"><use href="#k" x="561" y="385"/></g><g id="f197"><use href="#k" x="600" y="402"/></g>
<g id="f198"><use href="#w" x="604" y="385"/></g><g id="f199"><use href="#w" x="611" y="402"/></g>
<g id="f200"><use href="#w" x="690" y="385"/></g><g id="f201"><use href="#k" x="670" y="402"/></g>
<g id="f202"><use href="#w" x="703" y="385"/></g>
<g id="f203"><use href="#w" x="738" y="385"/></g><g id="f204"><use href="#w" x="729" y="402"/></g>
<g id="f205"><use href="#w" x="759" y="385"/></g><g id="f206"><use href="#w" x="759" y="402"/></g>
<g id="f207"><use href="#w" x="805" y="385"/></g><g id="f208"><use href="#w" x="805" y="402"/></g>
<g id="f209"><use href="#k" x="844" y="385"/></g><g id="f210"><use href="#w" x="844" y="402"/></g>
<g id="f211"><use href="#w" x="896" y="385"/></g><g id="f212"><use href="#k" x="896" y="402"/></g>
<g id="f213"><use href="#k" x="932" y="385"/></g><g id="f214"><use href="#w" x="932" y="402"/></g>
<g id="f215"><use href="#w" x="963" y="385"/></g><g id="f216"><use href="#k" x="960" y="402"/></g>
<g id="f217"><use href="#w" x="1021" y="385"/></g><g id="f218"><use href="#w" x="1021" y="402"/></g>
<g id="f219"><use href="#w" x="1055" y="385"/></g><g id="f220"><use href="#w" x="1045" y="402"/></g>
<g id="f221"><use href="#k" x="1068" y="385"/></g><g id="f222"><use href="#k" x="1083" y="402"/></g>
<g id="f223"><use href="#w" x="1080" y="385"/></g><g id="f224"><use href="#w" x="1092" y="385"/></g>
<g id="f225"><use href="#w" x="1142" y="385"/></g><g id="f226"><use href="#w" x="1154" y="402"/></g>
<g id="f227"><use href="#w" x="1192" y="402"/></g>
<g id="f228"><use href="#w" x="269" y="442"/></g><g id="f229"><use href="#w" x="269" y="458"/></g>
<g id="f230"><use href="#w" x="351" y="442"/></g><g id="f231"><use href="#w" x="351" y="458"/></g>
<g id="f232"><use href="#w" x="608" y="442"/></g><g id="f233"><use href="#w" x="608" y="458"/></g>
<g id="f234"><use href="#k" x="640" y="442"/></g><g id="f235"><use href="#k" x="640" y="458"/></g>
<g id="f236"><use href="#k" x="663" y="442"/></g><g id="f237"><use href="#w" x="663" y="458"/></g>
<g id="f238"><use href="#w" x="682" y="442"/></g><g id="f239"><use href="#w" x="682" y="458"/></g>
<g id="f240"><use href="#w" x="763" y="442"/></g><g id="f241"><use href="#w" x="763" y="458"/></g>
<g id="f242"><use href="#k" x="852" y="442"/></g><g id="f243"><use href="#k" x="852" y="458"/></g>
<g id="f244"><use href="#k" x="870" y="442"/></g><g id="f245"><use href="#w" x="870" y="458"/></g>
<g id="f246"><use href="#k" x="887" y="442"/></g><g id="f247"><use href="#w" x="887" y="458"/></g>
<g id="f248"><use href="#w" x="903" y="442"/></g><g id="f249"><use href="#w" x="903" y="458"/></g>
<g id="f250"><use href="#k" x="929" y="442"/></g><g id="f251"><use href="#k" x="929" y="458"/></g>
<g id="f252"><use href="#k" x="951" y="442"/></g><g id="f253"><use href="#k" x="965" y="458"/></g>
<g id="f254"><use href="#k" x="963" y="442"/></g><g id="f255"><use href="#w" x="984" y="458"/></g>
<g id="f256"><use href="#w" x="1060" y="442"/></g>
<g id="f257"><use href="#w" x="866" y="500"/></g><g id="f258"><use href="#w" x="866" y="517"/></g>
<g id="f259"><use href="#k" x="978" y="500"/></g><g id="f260"><use href="#k" x="981" y="517"/></g>
<g id="f261"><use href="#k" x="967" y="517"/></g><g id="f262"><use href="#w" x="967" y="537"/></g>
<g id="f263"><use href="#w" x="607" y="500"/></g><g id="f264"><use href="#k" x="609" y="517"/></g>
<g id="f265"><use href="#k" x="631" y="500"/></g><g id="f266"><use href="#k" x="626" y="517"/></g>
<g id="f267"><use href="#w" x="709" y="537"/></g><g id="f268"><use href="#w" x="722" y="537"/></g>
<g id="f269"><use href="#k" x="578" y="558"/></g><g id="f270"><use href="#k" x="578" y="575"/></g>
<g id="f271"><use href="#k" x="599" y="558"/></g><g id="f272"><use href="#w" x="594" y="575"/></g>
<g id="f273"><use href="#k" x="612" y="558"/></g><g id="f274"><use href="#k" x="612" y="575"/></g>
<g id="f275"><use href="#k" x="677" y="558"/></g><g id="f276"><use href="#w" x="682" y="575"/></g>
<g id="f277"><use href="#k" x="689" y="558"/></g><g id="f278"><use href="#w" x="694" y="575"/></g>
<g id="f279"><use href="#k" x="962" y="558"/></g>
<g id="f280"><use href="#k" x="983" y="558"/></g><g id="f281"><use href="#w" x="983" y="575"/></g>
<g id="f282"><use href="#w" x="548" y="616"/></g><g id="f283"><use href="#w" x="544" y="632"/></g>
<g id="f284"><use href="#k" x="560" y="616"/></g><g id="f285"><use href="#w" x="557" y="632"/></g>
<g id="f286"><use href="#w" x="573" y="616"/></g><g id="f287"><use href="#w" x="569" y="632"/></g>
<g id="f288"><use href="#k" x="586" y="616"/></g><g id="f289"><use href="#k" x="585" y="632"/></g>
<g id="f290"><use href="#k" x="598" y="616"/></g><g id="f291"><use href="#k" x="597" y="632"/></g>
<g id="f292"><use href="#k" x="610" y="616"/></g><g id="f293"><use href="#k" x="610" y="632"/></g>
<g id="f294"><use href="#k" x="631" y="616"/></g><g id="f295"><use href="#k" x="633" y="632"/></g>
<g id="f296"><use href="#k" x="644" y="616"/></g><g id="f297"><use href="#w" x="648" y="632"/></g>
<g id="f298"><use href="#k" x="656" y="616"/></g><g id="f299"><use href="#k" x="662" y="632"/></g>
<g id="f300"><use href="#w" x="687" y="616"/></g><g id="f301"><use href="#w" x="681" y="632"/></g>
<g id="f302"><use href="#w" x="978" y="616"/></g><g id="f303"><use href="#w" x="978" y="632"/></g>
<g id="f304"><use href="#k" x="543" y="674"/></g><g id="f305"><use href="#w" x="484" y="690"/></g>
<g id="f306"><use href="#k" x="562" y="674"/></g><g id="f307"><use href="#w" x="544" y="690"/></g>
<g id="f308"><use href="#w" x="594" y="674"/></g><g id="f309"><use href="#w" x="607" y="690"/></g>
<g id="f310"><use href="#w" x="635" y="674"/></g><g id="f311"><use href="#w" x="635" y="690"/></g>
<g id="f312"><use href="#w" x="668" y="674"/></g><g id="f313"><use href="#w" x="668" y="690"/></g>
<g id="f314"><use href="#w" x="635" y="731"/></g><g id="f315"><use href="#w" x="635" y="748"/></g>
<g id="f316"><use href="#k" x="635" y="789"/></g><g id="f317"><use href="#w" x="635" y="806"/></g>
<g id="f318"><use href="#w" x="635" y="846"/></g><g id="f319"><use href="#w" x="635" y="863"/></g>
</g>
<g id="legend">
<rect x="10.5" y="723.5" width="275" height="180" fill="#fff" stroke="#555" stroke-width="1"/>
<circle class="b" cx="36" cy="744" r="7.5"/>
<text x="56" y="749">formaldehyde, glycolaldehyde</text>
<circle class="t" cx="36" cy="769" r="7.5"/>
<text x="56" y="774">triose</text>
<circle class="o" cx="36" cy="795" r="7.5"/>
<text x="56" y="800">tetrose</text>
<circle class="c1" cx="36" cy="821" r="7.5"/>
<circle class="c2" cx="60" cy="821" r="7.5"/>
<circle class="c3" cx="85" cy="821" r="7.5"/>
<circle class="c4" cx="109" cy="821" r="7.5"/>
<text x="128" y="826">1 - 4 carbon atoms</text>
<path d="M37,839.5 L44.5,847 L37,854.5 L29.5,847Z" fill="#fff" stroke="#000" stroke-width=".9"/>
<text x="55" y="852">virtual flask</text>
<path d="M37,864.5 L44.5,872 L37,879.5 L29.5,872Z" fill="#3366cc" stroke="#000" stroke-width=".9"/>
<text x="55" y="877">virtual flask containing water</text>
</g>
</svg>
